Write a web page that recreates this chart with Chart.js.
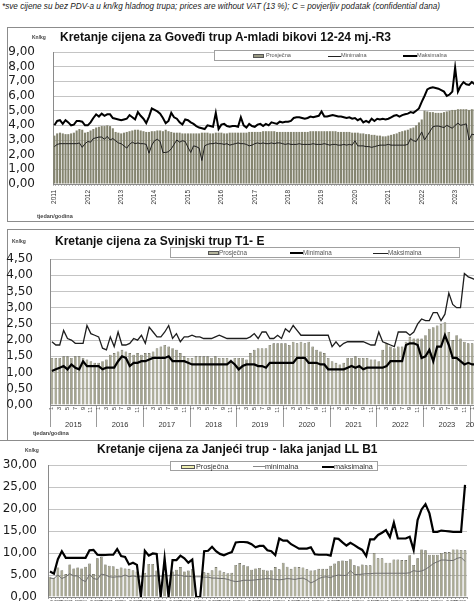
<!DOCTYPE html>
<html><head><meta charset="utf-8">
<script src="https://cdn.jsdelivr.net/npm/chart.js@4.4.1/dist/chart.umd.min.js"></script>
<style>
html,body{margin:0;padding:0;background:#fff;width:474px;height:601px;overflow:hidden;}
body{position:relative;font-family:'Liberation Sans',Arial,sans-serif;}
.box{position:absolute;border:1px solid #8c8c8c;box-sizing:border-box;}
.title{position:absolute;font-weight:bold;font-size:12px;color:#111;white-space:nowrap;line-height:1;}
.unit{position:absolute;font-weight:bold;font-size:5px;color:#444;white-space:nowrap;line-height:1;}
.axt{position:absolute;font-weight:bold;font-size:5.5px;color:#444;white-space:nowrap;line-height:1;}
.legend{position:absolute;border:1px solid #a0a0a0;background:#fff;box-sizing:border-box;}
.lt{position:absolute;white-space:nowrap;color:#555;line-height:1;}
.sw{position:absolute;box-sizing:border-box;}
canvas{position:absolute;}
</style></head>
<body>
<div style="position:absolute;left:2px;top:3px;font-style:italic;font-size:8.2px;color:#222;white-space:nowrap;line-height:1;">*sve cijene su bez PDV-a u kn/kg hladnog trupa; prices are without VAT (13 %); C = povjerljiv podatak (confidential dana)</div>

<div class="box" style="left:7px;top:27px;width:480px;height:195px;"></div>
<div class="box" style="left:7px;top:229px;width:480px;height:212px;"></div>
<div style="position:absolute;left:0;top:440px;width:474px;height:1px;background:#8c8c8c;"></div>

<canvas id="c1" width="476" height="192" style="left:0;top:28px;"></canvas>
<canvas id="c2" width="478" height="210" style="left:0;top:230px;"></canvas>
<canvas id="c3" width="478" height="175" style="left:0;top:441px;"></canvas>

<div class="unit" style="left:32px;top:35px;">Kn/kg</div>
<div class="title" style="left:60px;top:31px;">Kretanje cijena za Goveđi trup A-mladi bikovi 12-24 mj.-R3</div>
<div class="legend" style="left:214px;top:50px;width:270px;height:11px;">
  <div class="sw" style="left:38px;top:3px;width:11px;height:4px;background:#9a9a84;border:0.5px solid #555;"></div>
  <div class="lt" style="left:51px;top:2px;font-size:5.6px;">Prosječna</div>
  <div class="sw" style="left:113px;top:4.5px;width:13px;height:1px;background:#222;"></div>
  <div class="lt" style="left:126px;top:2px;font-size:5.6px;">Minimalna</div>
  <div class="sw" style="left:188px;top:4px;width:14px;height:2px;background:#000;"></div>
  <div class="lt" style="left:202px;top:2px;font-size:5.6px;">Maksimalna</div>
</div>
<div class="axt" style="left:37px;top:214px;">tjedan/godina</div>

<div class="unit" style="left:12px;top:239px;">Kn/kg</div>
<div class="title" style="left:55px;top:235px;">Kretanje cijena za Svinjski trup T1- E</div>
<div class="legend" style="left:170px;top:247px;width:290px;height:11px;">
  <div class="sw" style="left:37px;top:3px;width:11px;height:4px;background:#b4b49c;border:0.5px solid #555;"></div>
  <div class="lt" style="left:48px;top:2px;font-size:6.3px;">Prosječna</div>
  <div class="sw" style="left:119px;top:4px;width:13px;height:2px;background:#000;"></div>
  <div class="lt" style="left:132px;top:2px;font-size:6.3px;">Minimalna</div>
  <div class="sw" style="left:202px;top:4.5px;width:15px;height:1px;background:#222;"></div>
  <div class="lt" style="left:217px;top:2px;font-size:6.3px;">Maksimalna</div>
</div>
<div class="axt" style="left:33px;top:431px;">tjedan/godina</div>

<div class="unit" style="left:25px;top:448px;">Kn/kg</div>
<div class="title" style="left:97px;top:443px;">Kretanje cijena za Janjeći trup - laka janjad LL B1</div>
<div class="legend" style="left:170px;top:461px;width:208px;height:10px;">
  <div class="sw" style="left:10px;top:2.5px;width:14px;height:4px;background:#eeeeb0;border:0.6px solid #555;"></div>
  <div class="lt" style="left:25px;top:1px;font-size:7.3px;color:#333;">Prosječna</div>
  <div class="sw" style="left:82px;top:4px;width:12px;height:1px;background:#888;"></div>
  <div class="lt" style="left:94px;top:1px;font-size:7.3px;color:#333;">minimalna</div>
  <div class="sw" style="left:151px;top:3.5px;width:12px;height:2px;background:#000;"></div>
  <div class="lt" style="left:163px;top:1px;font-size:7.3px;color:#333;">maksimalna</div>
</div>

<script>
// ---------- data ----------
const monthNums = ['1','2','3','4','5','6','7','8','9','10','11','12'];

// Goveđi trup (monthly, 2011-01 .. 2023-08)
const beefYears = ['2011','2012','2013','2014','2015','2016','2017','2018','2019','2020','2021','2022','2023'];
const beefAvg = [
 3.3,3.45,3.5,3.45,3.4,3.4,3.45,3.5,3.65,3.75,3.7,3.5,
 3.55,3.65,3.75,3.85,3.9,3.95,3.95,4.0,3.95,3.8,3.55,3.5,
 3.45,3.5,3.55,3.6,3.65,3.7,3.7,3.65,3.6,3.55,3.55,3.6,
 3.6,3.65,3.65,3.6,3.7,3.6,3.55,3.5,3.5,3.5,3.45,3.45,
 3.45,3.45,3.45,3.45,3.45,3.5,3.5,3.5,3.45,3.45,3.5,3.5,
 3.5,3.45,3.45,3.5,3.5,3.5,3.5,3.5,3.5,3.5,3.55,3.55,
 3.55,3.55,3.55,3.6,3.6,3.6,3.6,3.6,3.55,3.55,3.55,3.55,
 3.55,3.55,3.55,3.55,3.55,3.55,3.55,3.55,3.6,3.6,3.6,3.6,
 3.6,3.6,3.6,3.6,3.6,3.6,3.55,3.55,3.55,3.55,3.55,3.5,
 3.5,3.5,3.45,3.45,3.4,3.4,3.35,3.35,3.3,3.3,3.25,3.25,
 3.3,3.35,3.4,3.45,3.55,3.6,3.65,3.7,3.8,3.85,4.0,4.2,
 4.4,5.0,4.95,4.9,4.9,4.85,4.85,4.85,4.9,4.95,5.0,5.05,
 5.05,5.1,5.1,5.1,5.1,5.05,5.1,5.1
];
const beefMin = [
 2.55,2.7,2.75,2.75,2.75,2.75,2.75,2.75,2.75,2.8,2.5,2.75,
 2.9,2.85,3.1,3.15,3.2,3.2,3.05,3.25,3.0,3.1,2.95,2.8,
 2.75,2.6,2.45,2.7,2.85,2.75,2.8,2.75,2.75,2.7,2.1,2.65,
 2.95,3.05,2.9,2.15,2.15,2.2,2.4,2.7,3.0,2.85,2.95,2.9,
 2.5,2.15,2.6,2.55,2.45,1.6,2.6,2.7,2.75,2.75,2.8,2.75,
 2.75,2.7,2.75,2.65,2.7,2.75,2.8,2.75,2.75,2.7,2.6,2.65,
 2.75,2.8,2.75,2.8,2.75,2.75,2.8,2.75,2.8,2.8,2.75,2.7,
 2.75,2.7,2.7,2.7,2.75,2.7,2.7,2.7,2.7,2.75,2.7,2.7,
 2.7,2.75,2.7,2.65,2.7,2.7,2.65,2.65,2.7,2.65,2.7,2.65,
 2.95,2.6,2.6,2.6,2.55,2.55,2.5,2.55,2.6,2.65,2.65,2.65,
 2.7,2.65,2.65,2.65,2.65,2.65,2.65,2.7,3.1,2.95,2.9,3.2,
 3.55,3.0,3.3,3.6,3.9,3.95,3.95,3.9,3.85,4.0,3.9,3.8,
 4.0,4.15,4.0,4.05,4.1,3.0,3.4,3.35
];
const beefMax = [
 4.0,4.3,4.35,4.1,4.35,4.2,4.0,4.05,4.3,4.3,4.25,4.0,
 4.0,4.2,4.5,4.75,4.6,4.8,4.65,4.75,4.75,4.5,4.45,4.4,
 4.35,4.4,4.45,4.7,4.55,4.4,4.9,4.65,4.45,4.15,4.6,5.15,
 5.05,4.95,4.8,4.5,4.15,4.3,4.85,4.55,4.45,4.2,4.05,4.4,
 4.35,4.2,4.1,3.95,3.85,3.8,3.75,4.0,3.95,3.9,4.85,3.75,
 4.05,4.1,3.95,3.9,3.95,3.95,3.9,4.55,4.0,3.85,4.1,3.95,
 3.9,4.05,4.1,3.95,4.1,4.0,4.2,4.15,4.1,4.25,4.2,4.25,
 4.25,4.3,4.5,4.55,4.55,4.5,4.45,4.5,4.6,4.55,4.6,4.65,
 4.95,4.6,4.6,4.65,4.7,4.65,4.6,4.6,4.55,4.5,4.55,4.45,
 4.5,4.35,4.45,4.2,4.3,4.2,4.45,4.3,4.45,4.4,4.45,4.4,
 4.45,4.55,4.65,4.7,4.6,4.7,4.75,4.8,4.9,4.85,5.0,5.15,
 5.6,6.0,6.45,6.55,6.6,6.55,6.5,6.4,6.3,6.0,6.1,6.3,
 7.95,6.3,6.7,6.95,6.8,6.75,6.95,6.8
];

// Svinjski trup (monthly, 2015-01 .. 2024-02)
const porkYears = ['2015','2016','2017','2018','2019','2020','2021','2022','2023','2024'];
const porkAvg = [
 1.45,1.45,1.45,1.5,1.5,1.45,1.5,1.5,1.45,1.4,1.35,1.3,
 1.3,1.35,1.4,1.55,1.6,1.65,1.7,1.65,1.6,1.55,1.6,1.55,
 1.6,1.6,1.65,1.75,1.8,1.85,1.8,1.75,1.7,1.6,1.5,1.45,
 1.45,1.5,1.5,1.5,1.5,1.45,1.5,1.45,1.45,1.45,1.4,1.45,
 1.45,1.45,1.4,1.6,1.7,1.75,1.75,1.75,1.85,1.9,1.9,1.9,
 1.9,1.85,1.95,1.9,1.95,1.9,1.95,1.8,1.7,1.65,1.6,1.45,
 1.35,1.3,1.25,1.3,1.45,1.45,1.5,1.45,1.45,1.45,1.4,1.4,
 1.35,1.7,1.9,1.8,1.75,1.8,1.8,1.95,2.1,2.05,2.05,2.05,
 2.15,2.35,2.4,2.45,2.5,2.55,2.25,2.0,2.15,2.05,1.95,1.9,
 1.9,1.85
];
const porkMin = [
 1.05,1.1,1.15,1.2,1.1,1.25,1.15,1.1,1.35,1.2,1.2,1.2,
 1.2,1.1,1.15,1.15,1.15,1.35,1.5,1.45,1.2,1.3,1.3,1.35,
 1.35,1.4,1.45,1.45,1.45,1.45,1.5,1.35,1.35,1.35,1.35,1.3,
 1.25,1.25,1.25,1.25,1.25,1.25,1.25,1.25,1.25,1.25,1.35,1.25,
 1.1,1.2,1.25,1.25,1.25,1.2,1.2,1.15,1.3,1.3,1.3,1.3,
 1.3,1.3,1.3,1.45,1.45,1.45,1.3,1.3,1.3,1.25,1.25,1.1,
 1.1,1.1,1.1,1.1,1.15,1.2,1.15,1.2,1.1,1.15,1.15,1.15,
 1.15,1.15,1.2,1.35,1.35,1.35,1.35,1.85,1.9,1.9,1.85,1.45,
 1.5,1.7,1.35,1.8,1.8,2.15,1.85,1.45,1.45,1.35,1.25,1.3,
 1.25,1.25
];
const porkMax = [
 1.95,1.85,1.85,2.3,2.05,2.0,1.9,1.9,1.9,2.45,2.2,2.15,
 2.1,1.75,1.7,2.1,1.8,2.25,1.85,1.85,1.9,2.05,2.0,2.15,
 1.9,2.4,2.25,2.1,2.1,2.25,2.45,2.05,2.2,1.95,2.1,2.1,
 2.15,2.1,2.1,2.05,2.05,2.05,2.1,2.15,2.1,2.05,2.05,2.05,
 2.05,2.05,2.05,2.1,2.2,2.05,2.25,2.25,2.05,2.05,2.15,2.05,
 2.35,2.25,2.45,2.3,2.15,2.15,2.15,2.15,2.15,2.15,2.15,2.15,
 1.8,1.95,1.8,1.9,1.95,1.95,1.95,1.95,1.95,1.9,1.85,1.85,
 2.25,1.95,1.9,1.85,1.8,2.25,2.25,2.25,2.15,2.25,2.5,2.65,
 2.6,2.6,2.85,2.85,2.6,2.8,3.45,3.1,3.0,3.0,4.05,3.95,
 3.9,3.85
];

// Janjeći trup
const lambAvg = [
 4.6,4.4,6.7,6.1,5.2,7.4,6.5,6.7,6.5,6.9,
 7.6,5.2,8.8,9.1,7.4,7.1,7.0,6.4,6.7,6.5,
 6.4,6.1,5.8,0,5.5,7.5,7.5,6.0,0,5.2,
 0,5.8,6.2,6.8,5.8,6.0,6.3,0,0,5.6,
 5.5,6.1,6.8,6.0,5.6,5.4,5.5,7.3,7.7,7.2,
 7.0,6.2,6.5,6.6,6.2,6.0,6.1,6.8,6.3,7.8,
 6.9,6.4,6.9,6.8,6.7,6.3,6.0,6.1,6.4,6.4,
 6.4,7.1,7.6,8.1,8.3,8.2,8.6,7.2,7.0,7.4,
 7.2,7.2,10.0,8.8,8.8,7.8,7.8,8.5,8.5,8.4,
 8.4,9.5,7.3,8.8,10.8,10.6,9.6,9.6,9.6,10.0,
 10.2,10.2,10.8,10.8,10.7,10.6
];
const lambMin = [
 4.3,4.2,5.0,4.2,4.6,5.3,4.8,4.8,3.9,3.5,
 5.1,4.2,4.0,5.2,5.0,4.6,4.5,4.6,4.6,5.0,
 4.6,4.8,4.6,4.6,4.7,4.7,4.8,4.8,4.7,4.8,
 4.8,4.9,5.0,4.9,4.7,4.7,4.6,4.6,4.6,4.5,
 4.5,4.3,4.3,4.2,4.2,4.0,3.7,3.5,3.6,3.8,
 3.8,3.8,3.9,4.0,4.1,4.2,4.1,4.0,3.9,4.0,
 4.2,4.1,4.0,4.2,4.3,3.9,3.2,3.6,4.2,4.5,
 4.6,4.4,4.8,5.0,4.9,4.9,6.0,5.1,5.1,5.2,
 5.3,5.3,5.4,5.4,5.4,5.4,5.4,5.4,5.4,5.4,
 5.4,5.5,6.0,5.8,5.9,6.3,6.9,7.6,8.0,8.4,
 8.4,8.3,8.3,8.8,9.0,8.1
];
const lambMax = [
 5.8,5.3,8.6,10.4,8.9,8.9,8.9,8.9,8.9,8.9,
 10.6,10.7,9.6,9.5,9.55,9.6,9.6,10.9,9.3,9.1,
 7.4,7.8,7.3,0,10.5,9.4,9.9,9.8,0,8.8,
 0,8.4,8.4,9.4,8.8,7.8,8.5,0,0,10.4,
 10.5,11.4,10.4,9.8,9.5,9.9,10.2,12.4,12.5,12.5,
 12.4,12.0,11.3,11.6,11.6,10.6,10.4,9.5,13.3,12.8,
 12.8,12.0,11.5,11.0,11.0,11.0,11.3,9.7,9.6,9.6,
 9.6,9.4,13.3,13.2,12.4,11.7,12.3,11.8,11.2,10.7,
 9.3,13.1,13.1,14.1,14.6,15.2,13.6,16.9,13.3,13.3,
 13.3,13.7,10.7,17.5,19.9,21.1,19.0,14.8,14.8,15.1,
 15.0,14.9,14.8,14.8,14.8,25.5
];

const seriesNames1 = ['Prosječna','Minimalna','Maksimalna'];
const seriesNames3 = ['Prosječna','minimalna','maksimalna'];

// ---------- helpers ----------
function monthLabels(years, count) {
  const out = [];
  for (let i = 0; i < count; i++) out.push(years[Math.floor(i / 12)] + '/' + monthNums[i % 12]);
  return out;
}
const FONT = "'Liberation Sans', Arial, sans-serif";
Chart.defaults.font.family = FONT;

function yAxis(max, step, width, pad) {
  return {
    min: 0, max: max, position: 'left',
    afterFit: s => { s.width = width; s.paddingTop = 0; s.paddingBottom = 0; },
    ticks: { stepSize: step, padding: pad, color: '#1a1a1a', autoSkip: false,
      font: { family: "'DejaVu Sans', sans-serif", size: 12, lineHeight: 1 },
      callback: v => Number(v).toFixed(2).replace('.', ',') },
    grid: { color: '#c4c4c4', lineWidth: 1, drawTicks: false },
    border: { display: true, color: '#8a8a8a', width: 1 }
  };
}
function fixH(h) { return s => { s.height = h; s.paddingLeft = 0; s.paddingRight = 0; }; }
const baseOpts = (pad, scales) => ({
  responsive: false, animation: false, events: [],
  layout: { padding: pad },
  plugins: { legend: { display: false }, tooltip: { enabled: false } },
  scales: scales
});
const lineDs = (label, data, color, w, order) => ({ type: 'line', label, data, borderColor: color, borderWidth: w,
  pointRadius: 0, tension: 0, fill: false, order });

// ---------- chart 1 ----------
const beefLabels = monthLabels(beefYears, beefAvg.length);
new Chart(document.getElementById('c1'), {
  type: 'bar',
  data: { labels: beefLabels, datasets: [
    { type: 'bar', label: seriesNames1[0], data: beefAvg, backgroundColor: '#84846f', borderWidth: 0,
      barPercentage: 0.74, categoryPercentage: 1, order: 3 },
    lineDs(seriesNames1[1], beefMin, '#1e1e1e', 1, 2),
    lineDs(seriesNames1[2], beefMax, '#000', 2, 1)
  ]},
  options: baseOpts({ top: 24, right: 0, bottom: 0, left: 0 }, {
    x: { offset: true, afterFit: fixH(36),
      grid: { drawOnChartArea: false, drawTicks: true, tickLength: 2, color: '#8a8a8a', lineWidth: 0.6 },
      border: { display: true, color: '#8a8a8a' },
      ticks: { autoSkip: false, minRotation: 90, maxRotation: 90, padding: 4, color: '#333',
        font: { size: 6.5 },
        callback: (v, i) => { const p = beefLabels[i].split('/'); return p[1] === '1' ? p[0] : ''; } } },
    y: yAxis(9, 1, 53, 18)
  })
});

// ---------- chart 2 ----------
const porkLabels = monthLabels(porkYears, porkAvg.length);
const porkYearLabels = porkLabels.map(l => l.split('/')[0]);
function yearMid(i) {
  const start = Math.floor(i / 12) * 12;
  const len = Math.min(12, porkLabels.length - start);
  return i === start + Math.floor((len - 1) / 2);
}
new Chart(document.getElementById('c2'), {
  type: 'bar',
  data: { labels: porkLabels, datasets: [
    { type: 'bar', label: seriesNames1[0], data: porkAvg, backgroundColor: '#a3a38c', borderColor: '#5a5a4d',
      borderWidth: 0.6, barPercentage: 0.68, categoryPercentage: 1, order: 3 },
    lineDs(seriesNames1[1], porkMin, '#000', 2.2, 1),
    lineDs(seriesNames1[2], porkMax, '#1e1e1e', 1.3, 2)
  ]},
  options: baseOpts({ top: 29, right: 0, bottom: 11, left: 0 }, {
    x: { offset: true, weight: 0, afterFit: fixH(12),
      grid: { offset: true, drawOnChartArea: false, drawTicks: true, tickLength: 22, lineWidth: 1,
        color: c => (c.index % 12 === 0 ? '#9a9a9a' : 'rgba(0,0,0,0)') },
      border: { display: true, color: '#8a8a8a' },
      ticks: { autoSkip: false, minRotation: 90, maxRotation: 90, padding: -20, color: '#333',
        font: { size: 5.5 },
        callback: (v, i) => { const m = porkLabels[i].split('/')[1]; return (+m % 2 === 1) ? m : ''; } } },
    x2: { type: 'category', labels: porkYearLabels, offset: true, weight: 1, position: 'bottom',
      afterFit: fixH(12),
      grid: { display: false, drawTicks: false }, border: { display: false },
      ticks: { autoSkip: false, minRotation: 0, maxRotation: 0, padding: 3, labelOffset: 2, color: '#333',
        font: { size: 7.5 },
        callback: (v, i) => (yearMid(i) ? porkYearLabels[i] : '') } },
    y: yAxis(4.5, 0.5, 50, 17)
  })
});

// ---------- chart 3 ----------
const lambLabels = lambAvg.map((_, i) => String(i + 1));
new Chart(document.getElementById('c3'), {
  type: 'bar',
  data: { labels: lambLabels, datasets: [
    { type: 'bar', label: seriesNames3[0], data: lambAvg, backgroundColor: '#a6a68e', borderColor: '#4f4f44',
      borderWidth: 0.6, barPercentage: 0.7, categoryPercentage: 1, order: 3 },
    lineDs(seriesNames3[1], lambMin, '#6e6e6e', 1, 2),
    lineDs(seriesNames3[2], lambMax, '#000', 2.2, 1)
  ]},
  options: baseOpts({ top: 24, right: 11, bottom: 0, left: 0 }, {
    x: { offset: true, afterFit: fixH(19),
      grid: { drawOnChartArea: false, drawTicks: true, tickLength: 2, color: '#8a8a8a', lineWidth: 0.8 },
      border: { display: true, color: '#8a8a8a' },
      ticks: { autoSkip: false, minRotation: 90, maxRotation: 90, padding: 1, color: '#333', font: { size: 5 } } },
    y: yAxis(30, 5, 48, 11)
  })
});
</script>
</body></html>
